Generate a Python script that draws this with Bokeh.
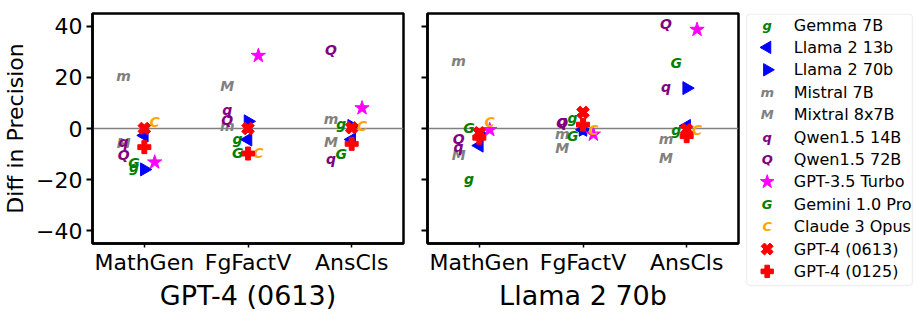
import math
from bokeh.plotting import figure
from bokeh.layouts import row
from bokeh.models import Range1d, FixedTicker, Span, BoxAnnotation, CustomLabelingPolicy
from bokeh.core.properties import value
from bokeh.embed import file_html
from bokeh.resources import INLINE

tasks = ["MathGen", "FgFactV", "AnsCls"]
models = ["Gemma 7B", "Llama 2 13b", "Llama 2 70b", "Mistral 7B", "Mixtral 8x7B",
          "Qwen1.5 14B", "Qwen1.5 72B", "GPT-3.5 Turbo", "Gemini 1.0 Pro",
          "Claude 3 Opus", "GPT-4 (0613)", "GPT-4 (0125)"]

# Diff in precision vs GPT-4 (0613)   [MathGen, FgFactV, AnsCls]
gpt4_gemma = [-15.0, -4.3, 1.6]
gpt4_llama13 = [-2.7, -4.3, -4.3]
gpt4_llama70 = [-16.0, 2.8, 1.0]
gpt4_mistral = [20.6, 1.0, 3.8]
gpt4_mixtral = [-5.5, 16.8, -5.3]
gpt4_qwen14 = [-5.4, 7.4, -11.8]
gpt4_qwen72 = [-10.5, 3.5, 30.7]
gpt4_gpt35 = [-13.2, 28.5, 8.0]
gpt4_gemini = [-13.6, -9.5, -10.0]
gpt4_claude = [2.4, -9.5, 0.9]
gpt4_gpt4a = [0.0, 0.0, 0.3]
gpt4_gpt4b = [-7.3, -9.8, -6.0]

# Diff in precision vs Llama 2 70b
llama_gemma = [-19.8, 4.1, -0.6]
llama_llama13 = [-6.7, -0.5, 1.0]
llama_llama70 = [-2.0, -0.5, 15.8]
llama_mistral = [26.4, -2.3, -4.3]
llama_mixtral = [-10.5, -7.5, -11.4]
llama_qwen14 = [-7.1, 2.8, 16.4]
llama_qwen72 = [-4.0, 2.3, 40.8]
llama_gpt35 = [-0.5, -2.3, 38.7]
llama_gemini = [0.3, -3.0, 25.5]
llama_claude = [2.5, -0.4, -0.4]
llama_gpt4a = [-1.7, 6.3, -0.4]
llama_gpt4b = [-3.6, 1.5, -3.0]

gpt4_vals = [gpt4_gemma, gpt4_llama13, gpt4_llama70, gpt4_mistral, gpt4_mixtral,
             gpt4_qwen14, gpt4_qwen72, gpt4_gpt35, gpt4_gemini, gpt4_claude,
             gpt4_gpt4a, gpt4_gpt4b]
llama_vals = [llama_gemma, llama_llama13, llama_llama70, llama_mistral, llama_mixtral,
              llama_qwen14, llama_qwen72, llama_gpt35, llama_gemini, llama_claude,
              llama_gpt4a, llama_gpt4b]

y_ticks = [-40, -20, 0, 20, 40]

# styles
colors = ["#008000", "#0000ff", "#0000ff", "#808080", "#808080", "#800080", "#800080",
          "#ff00ff", "#008000", "#ffa500", "#ff0000", "#ff0000"]
symbols = ["g", "tri_left", "tri_right", "m", "M", "q", "Q", "star", "G", "C", "X", "P"]
offsets = [-0.1, 0.0, 0.0, -0.2, -0.2, -0.2, -0.2, 0.1, -0.1, 0.1, 0.0, 0.0]

FONT = "DejaVu Sans"


def draw_marker(p, xs, ys, sym, color, scale=1.0):
    if sym == "tri_left":
        p.scatter(xs, ys, marker="triangle", angle=math.pi / 2, size=13 * scale,
                  fill_color=color, line_color=color)
    elif sym == "tri_right":
        p.scatter(xs, ys, marker="triangle", angle=-math.pi / 2, size=13 * scale,
                  fill_color=color, line_color=color)
    elif sym == "star":
        p.scatter(xs, ys, marker="star", size=15 * scale, fill_color=color, line_color=color)
    elif sym == "X":
        p.scatter(xs, ys, marker="plus", angle=math.pi / 4, size=13 * scale,
                  fill_color=color, line_color=color)
    elif sym == "P":
        p.scatter(xs, ys, marker="plus", size=13 * scale, fill_color=color, line_color=color)
    else:
        p.text(xs, ys, text=[sym] * len(xs), text_font=value(FONT),
               text_font_style="bold italic", text_font_size=f"{int(14 * scale)}px",
               text_color=color, text_align="center", text_baseline="middle")


def make_panel(vals, xlabel, show_ylabels, left_border, right_border):
    p = figure(frame_width=311, frame_height=230, output_backend="svg",
               toolbar_location=None, x_range=Range1d(-0.5, 2.5),
               y_range=Range1d(-45, 45), min_border_left=left_border,
               min_border_right=right_border, min_border_top=13, min_border_bottom=75)
    p.grid.visible = False
    p.outline_line_color = "black"
    p.outline_line_width = 2.5
    p.add_layout(Span(location=0, dimension="width", line_color="#808080",
                      line_width=1.5, level="underlay"))
    for vs, sym, col, off in zip(vals, symbols, colors, offsets):
        xs = [i + off for i in range(len(tasks))]
        draw_marker(p, xs, vs, sym, col)
    xa = p.xaxis[0]
    xa.ticker = FixedTicker(ticks=list(range(len(tasks))))
    xa.major_label_overrides = {i: t for i, t in enumerate(tasks)}
    xa.minor_tick_line_color = None
    xa.major_tick_in = 0
    xa.major_tick_out = 4
    xa.major_tick_line_width = 1.5
    xa.axis_line_width = 2.5
    xa.major_label_text_font = FONT
    xa.major_label_text_font_size = "22px"
    xa.major_label_text_color = "black"
    xa.major_label_standoff = 2
    xa.axis_label = xlabel
    xa.axis_label_text_font = FONT
    xa.axis_label_text_font_size = "27px"
    xa.axis_label_text_font_style = "normal"
    xa.axis_label_text_color = "black"
    xa.axis_label_standoff = 2
    ya = p.yaxis[0]
    ya.ticker = FixedTicker(ticks=y_ticks)
    ya.minor_tick_line_color = None
    ya.major_tick_in = 0
    ya.major_tick_out = 6
    ya.major_tick_line_width = 2
    ya.axis_line_width = 2.5
    ya.major_label_text_font = FONT
    ya.major_label_text_color = "black"
    if show_ylabels:
        ya.major_label_text_font_size = "22px"
        ya.axis_label = "Diff in Precision"
        ya.axis_label_text_font = FONT
        ya.axis_label_text_font_size = "22px"
        ya.axis_label_text_font_style = "normal"
        ya.axis_label_text_color = "black"
        ya.axis_label_standoff = 5
        ya.major_label_standoff = 4
    else:
        ya.major_label_text_font_size = "0px"
        ya.major_label_policy = CustomLabelingPolicy(
            code="for (const i of Array.from(indices)) { indices.unset(i) }; return indices")
        ya.major_label_standoff = 0
    return p


p1 = make_panel(gpt4_vals, "GPT-4 (0613)", True, 92, 9)
p2 = make_panel(llama_vals, "Llama 2 70b", False, 15, 7)

# legend panel (its frame lines up with the panels' frames, top at page y=13)
leg = figure(frame_width=169, frame_height=292, output_backend="svg", toolbar_location=None,
             x_range=Range1d(0, 169), y_range=Range1d(305, 13), x_axis_type=None,
             y_axis_type=None, min_border=0)
leg.title.visible = False
leg.grid.visible = False
leg.outline_line_color = None
leg.add_layout(BoxAnnotation(left=1, right=167, top=13.5, bottom=285, fill_color="white",
                             fill_alpha=1, line_color="#cccccc", line_width=1.5,
                             border_radius=4, level="underlay"))
for i, (name, sym, col) in enumerate(zip(models, symbols, colors)):
    yy = 24.5 + 22.4 * i
    draw_marker(leg, [21.7], [yy], sym, col, scale=0.95)
    leg.text([48.3], [yy], text=[name], text_font=value(FONT), text_font_size="16px",
             text_color="black", text_align="left", text_baseline="middle")

layout = row(p1, p2, leg)
open("out.html", "w").write(file_html(layout, INLINE))
